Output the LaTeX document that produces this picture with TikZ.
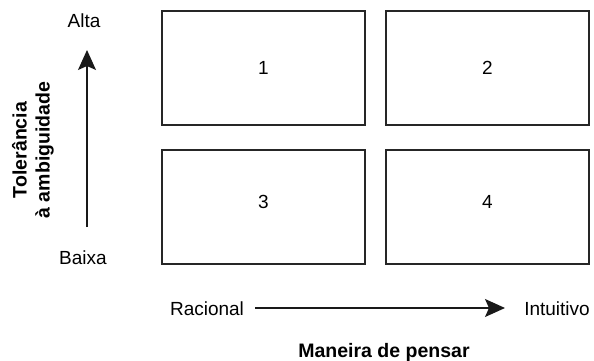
\documentclass[tikz,border=0pt]{standalone}
\usepackage{fontspec}
\setmainfont{Liberation Sans}
\usetikzlibrary{arrows.meta}
\begin{document}
\begin{tikzpicture}[x=1pt,y=-1pt,
  box/.style={draw=black!85, line width=1.4pt, minimum width=203pt, minimum height=114pt, inner sep=0pt},
  lbl/.style={font=\fontsize{19}{22}\selectfont, inner sep=0pt},
  ttl/.style={font=\fontsize{19.5}{23}\selectfont\bfseries, inner sep=0pt},
  axis/.style={line width=1.4pt, draw=black!90, -{Stealth[length=20pt,width=18pt,inset=4pt]}}]
\useasboundingbox (0,0) rectangle (594,361);
% boxes
\node[box] (b1) at (263.5,68) {};
\node[box] (b2) at (487.5,68) {};
\node[box] (b3) at (263.5,207) {};
\node[box] (b4) at (487.5,207) {};
% numbers
\node[lbl] (n1) at (263.5,68) {1};
\node[lbl] (n2) at (487.5,68) {2};
\node[lbl] (n3) at (263.5,202) {3};
\node[lbl] (n4) at (487.5,202) {4};
% vertical axis
\node[lbl, anchor=base] (alta) at (84,28) {Alta};
\node[lbl, anchor=base] (baixa) at (83,264) {Baixa};
\coordinate (vb) at (87,227);
\coordinate (vt) at (87,50);
\draw[axis] (vb) -- (vt);
\node[ttl, rotate=90, align=center] (tol) at (33,150) {Tolerância\\à ambiguidade};
% horizontal axis
\node[lbl, anchor=base] (rac) at (207,315) {Racional};
\node[lbl, anchor=base] (int) at (557,315) {Intuitivo};
\coordinate (hl) at (255,308);
\coordinate (hr) at (505,308);
\draw[axis] (hl) -- (hr);
\node[ttl, anchor=base] (man) at (384,357) {Maneira de pensar};
\end{tikzpicture}
\end{document}
